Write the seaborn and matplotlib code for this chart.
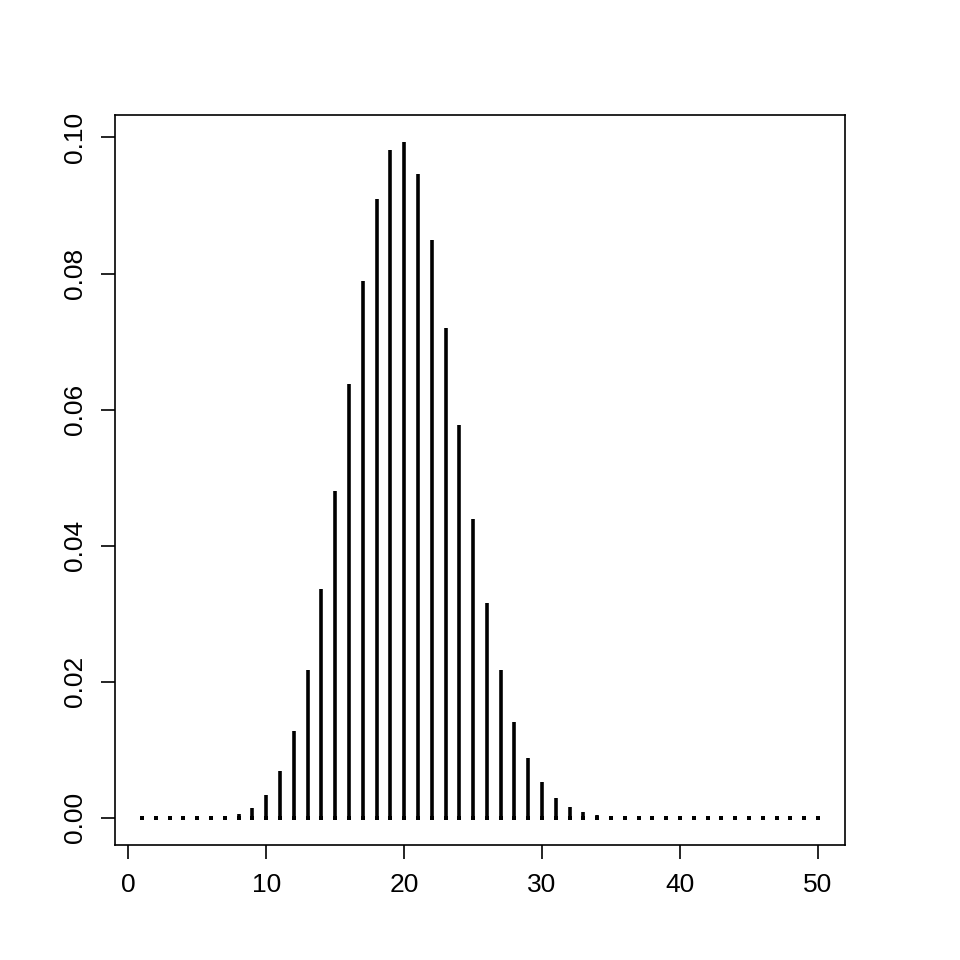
import matplotlib
matplotlib.use("Agg")
import matplotlib.pyplot as plt
import seaborn as sns
import pandas as pd

x = list(range(1, 51))
y = [0.0, 0.0, 0.0, 0.0, 0.00001, 0.00005, 0.0002, 0.0006, 0.0015, 0.0034,
     0.0069, 0.0128, 0.0217, 0.0336, 0.0481, 0.0638, 0.0789, 0.0909, 0.0981, 0.0993,
     0.0946, 0.0849, 0.0720, 0.0577, 0.0439, 0.0316, 0.0217, 0.0141, 0.0088, 0.0052,
     0.0029, 0.0016, 0.0008, 0.0004, 0.0002, 0.0001, 0.00004, 0.00002, 0.0, 0.0,
     0.0, 0.0, 0.0, 0.0, 0.0, 0.0, 0.0, 0.0, 0.0, 0.0]
xticks = [0, 10, 20, 30, 40, 50]
yticks = [0.00, 0.02, 0.04, 0.06, 0.08, 0.10]

sns.set_style("white")
plt.rcParams['font.family'] = ['Liberation Sans', 'DejaVu Sans']
df = pd.DataFrame({"x": x, "y": y})

fig = plt.figure(figsize=(9.6, 9.6), dpi=100)
ax = fig.add_axes([115/960, 115/960, 730/960, 730/960])
ax.vlines(df["x"], 0, df["y"], color="black", linewidth=2.6)
sns.scatterplot(x=df["x"], y=[0.0] * len(x), ax=ax, marker="s", s=5,
                color="black", linewidth=0)
ax.set_xlim(-0.96, 51.96)
ax.set_ylim(-0.004, 0.1033)
ax.set_xticks(xticks)
ax.set_xticklabels([str(t) for t in xticks])
ax.set_yticks(yticks)
ax.set_yticklabels([f"{t:.2f}" for t in yticks], rotation=90, va="center")
ax.set_xlabel("")
ax.set_ylabel("")
for s in ax.spines.values():
    s.set_color("black")
    s.set_linewidth(1.2)
ax.tick_params(direction="out", length=10, width=1.2, labelsize=19, color="black",
               labelcolor="black", pad=10, bottom=True, left=True)
fig.savefig("out.png", dpi=100)
